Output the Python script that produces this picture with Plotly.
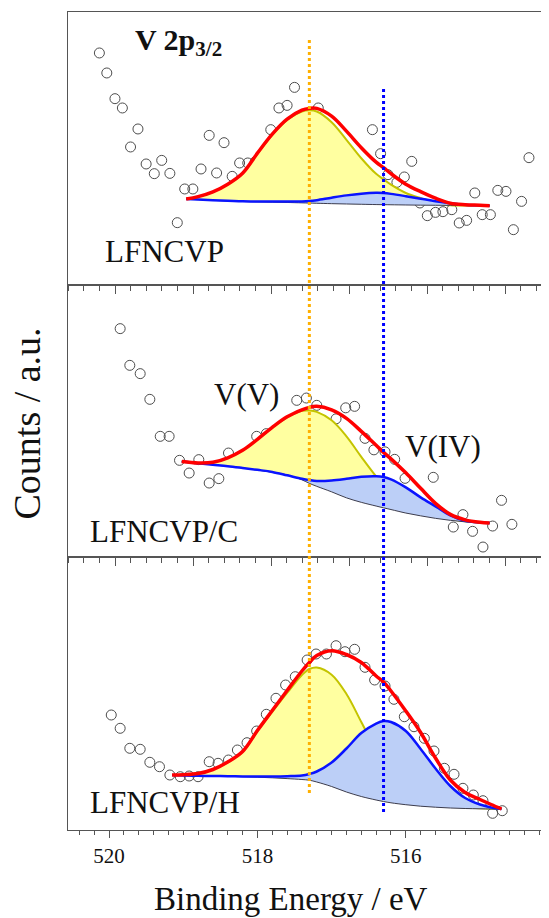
import plotly.graph_objects as go

# ---------------- data ----------------
# Panel 1: LFNCVP
P1_BE = [520.13, 520.03, 519.92, 519.82, 519.71, 519.61, 519.50, 519.39, 519.29, 519.18,
         519.08, 518.98, 518.87, 518.76, 518.65, 518.55, 518.45, 518.34, 518.24, 518.13,
         518.03, 517.82, 517.71, 517.60, 517.50, 517.18, 516.45, 516.34, 516.24, 516.12,
         516.02, 515.92, 515.81, 515.71, 515.60, 515.50, 515.38, 515.28, 515.18, 515.07,
         514.97, 514.86, 514.76, 514.65, 514.55, 514.44, 514.34]
P1_CT = [231.7, 211.7, 186, 176.7, 137.7, 155.7, 120.7, 111, 124.3, 111.3,
         62, 95.7, 95.7, 115.7, 149.3, 111.7, 142, 108.3, 121.7, 121.7,
         123, 155, 176.7, 179.3, 197.3, 176.7, 155, 131, 110, 102.3,
         107.7, 123.3, 81.7, 69, 72.3, 73, 75, 61.7, 64.3, 91.7,
         70, 70, 94.3, 93.3, 55, 83.3, 127]
F1_BE = [518.96, 518.8, 518.6, 518.4, 518.2, 518.0, 517.8, 517.6, 517.4, 517.3, 517.2, 517.0,
         516.8, 516.6, 516.4, 516.3, 516.2, 516.0, 515.8, 515.6, 515.4, 515.2, 515.0, 514.87]
F1_ENV = [85.6, 88, 92.8, 100.5, 111.5, 131.5, 150.5, 165.5, 174.5, 176.3, 176.3, 168.5,
          153.5, 137, 122.5, 117, 111, 100.5, 93, 86.5, 81.5, 80, 79.5, 79]
F1_BG = [85.6, 85, 84.3, 83.7, 83.2, 82.8, 82.5, 82.2, 81.8, 81.6, 81.4, 81,
         80.7, 80.4, 80.1, 80, 79.9, 79.7, 79.5, 79.4, 79.3, 79.2, 79.1, 79]
F1_V5 = [85.6, 87.9, 92.6, 100.2, 111.3, 131.1, 149.9, 164.6, 173.1, 174.3, 173.2, 162.5,
         144.9, 126.4, 110.8, 105.4, 100, 91.7, 86.5, 82.4, 79.3, 79.2, 79.3, 79]
F1_V4 = [85.6, 85.1, 84.5, 84, 83.4, 83.2, 83.1, 83.1, 83.2, 83.6, 84.5, 87,
         89.3, 91, 91.8, 91.6, 90.8, 88.5, 86, 83.5, 81.5, 80, 79.3, 79]

# Panel 2: LFNCVP/C
P2_BE = [519.85, 519.72, 519.58, 519.45, 519.31, 519.19, 519.05, 518.92, 518.79, 518.65,
         518.52, 518.39, 518.01, 517.88, 517.47, 517.34, 517.20, 516.94, 516.81, 516.69,
         516.55, 516.43, 516.28, 516.15, 516.01, 515.63, 515.36, 515.23, 515.10, 514.96,
         514.83, 514.71, 514.57]
P2_CT = [228.7, 192, 183.7, 158, 121, 121, 97, 84.3, 97.7, 74.3,
         78.7, 104.3, 121, 123.7, 157, 159.3, 152, 138.5, 149.5, 151,
         119, 107.5, 105.5, 98, 79, 80, 30.3, 42.7, 26, 10.3,
         31.3, 57, 33]
F2_BE = [519.02, 518.8, 518.6, 518.4, 518.2, 518.0, 517.8, 517.6, 517.4, 517.3, 517.2, 517.0,
         516.8, 516.6, 516.4, 516.3, 516.2, 516.0, 515.8, 515.6, 515.4, 515.2, 515.0, 514.87]
F2_ENV = [95.8, 94.3, 95, 99.5, 107, 118, 130, 140.5, 147.5, 150, 151, 147.5,
          139, 126, 112, 105, 98.5, 84.5, 69, 54, 43, 37.5, 35, 34.3]
F2_BG = [95.8, 94, 92.5, 91, 89.3, 87.3, 85, 82.5, 77.5, 74, 71, 65.5,
         59.5, 55, 51.3, 49.5, 47.8, 44.3, 41.5, 39, 37, 35.5, 34.7, 34.3]
F2_V5 = [95.8, 94.3, 94.9, 99.3, 106.9, 117.8, 129.6, 140, 146.5, 146.8, 145.5, 137,
         121, 100.5, 81, 73, 67, 58, 50, 42.5, 38.5, 36, 34.8, 34.3]
F2_V4 = [95.8, 94, 92.6, 91.2, 89.4, 87.5, 85.4, 82, 78.5, 77.2, 76.3, 76.8,
         78.5, 80.5, 81, 80.3, 78, 70, 60, 51, 42, 36.5, 34.8, 34.3]

# Panel 3: LFNCVP/H
P3_BE = [519.97, 519.85, 519.72, 519.58, 519.45, 519.32, 519.18, 519.04, 518.92, 518.80,
         518.65, 518.53, 518.39, 518.27, 518.14, 518.01, 517.88, 517.75, 517.62, 517.49,
         517.33, 517.21, 517.07, 516.94, 516.82, 516.69, 516.55, 516.42, 516.28, 516.16,
         516.02, 515.89, 515.75, 515.62, 515.48, 515.35, 515.23, 515.09, 514.96, 514.83,
         514.70]
P3_CT = [115, 101.7, 81.7, 80.7, 67.7, 63.3, 55, 53.3, 54, 53.3,
         68.3, 66.7, 70, 80, 87.3, 99, 115.7, 131.7, 145, 153.3,
         170, 176, 176, 184.3, 178.3, 180.7, 162.7, 150, 144, 130.7,
         113.3, 103.3, 91.7, 79, 61.7, 55.7, 41.7, 35, 29.3, 16.7,
         19.3]
F3_BE = [519.15, 519.0, 518.8, 518.6, 518.4, 518.2, 518.0, 517.8, 517.6, 517.4, 517.3, 517.2,
         517.0, 516.8, 516.6, 516.4, 516.3, 516.2, 516.0, 515.8, 515.6, 515.4, 515.2, 515.0,
         514.85, 514.71]
F3_ENV = [55, 55.3, 56.5, 60.5, 68, 78.5, 99.5, 119.5, 139.5, 159, 167.5, 174.5,
          179.3, 175.5, 167.5, 154, 148, 139, 119, 97.5, 72, 50, 37.5, 30.5, 25.5, 21]
F3_BG = [55, 54.6, 54.2, 53.9, 53.6, 53.3, 52.8, 52.2, 51.4, 50.5, 49.8, 48,
         43.5, 38, 33.5, 30, 28.5, 27.2, 25.3, 23.8, 22.8, 22, 21.5, 21.2, 21, 21]
F3_V5 = [55, 55.3, 56.5, 60.4, 67.8, 78.2, 98.8, 118.2, 137.1, 155, 161, 162.5,
         155.3, 136, 108, 80, 70, 60, 46, 35, 28, 24.5, 22.5, 21.8, 21.3, 21]
F3_V4 = [55, 54.6, 54.2, 54, 53.8, 53.6, 53.5, 53.5, 53.8, 54.5, 56, 58.5,
         67.5, 81.5, 97, 106.5, 109, 108, 99, 81, 61.5, 44, 32, 25.5, 22.5, 21]

PANEL_LABELS = ["LFNCVP", "LFNCVP/C", "LFNCVP/H"]
V5_POS = 517.30   # V(V) reference line
V4_POS = 516.30   # V(IV) reference line
X_TICKS = [520, 518, 516]

# ---------------- layout helpers ----------------
# the page body has an 8 px margin, so the figure is drawn 8 px smaller and offset
OFF = 8
W, H = 549 - OFF, 918 - OFF
ML, MR, MT, MB = 68 - OFF, 0, 12 - OFF, 88
PW, PH = W - ML - MR, H - MT - MB
FONT = "Liberation Serif"


def pxx(x):
    return (x - OFF - ML) / PW


def pxy(y):
    return (H - MB - (y - OFF)) / PH


fig = go.Figure()

panels = [
    (P1_BE, P1_CT, F1_BE, F1_ENV, F1_BG, F1_V5, F1_V4),
    (P2_BE, P2_CT, F2_BE, F2_ENV, F2_BG, F2_V5, F2_V4),
    (P3_BE, P3_CT, F3_BE, F3_ENV, F3_BG, F3_V5, F3_V4),
]

for i, (pbe, pct, fbe, env, bg, v5, v4) in enumerate(panels):
    xa = "x" if i == 0 else f"x{i+1}"
    ya = "y" if i == 0 else f"y{i+1}"
    common = dict(xaxis=xa, yaxis=ya, showlegend=False, hoverinfo="skip")
    fig.add_trace(go.Scatter(x=pbe, y=pct, mode="markers",
                             marker=dict(symbol="circle-open", size=10, color="#4d4d4d",
                                         line=dict(width=1)), **common))
    fig.add_trace(go.Scatter(x=fbe, y=bg, mode="lines", line=dict(width=0, color="rgba(0,0,0,0)",
                             shape="spline"), **common))
    fig.add_trace(go.Scatter(x=fbe, y=v5, mode="lines", fill="tonexty", fillcolor="#ffffa0",
                             line=dict(color="#c4c400", width=2, shape="spline"), **common))
    fig.add_trace(go.Scatter(x=fbe, y=bg, mode="lines",
                             line=dict(color="#3c3c50", width=1, shape="spline"), **common))
    fig.add_trace(go.Scatter(x=fbe, y=v4, mode="lines", fill="tonexty", fillcolor="#bccff7",
                             line=dict(color="#0a14ff", width=2.5, shape="spline"), **common))
    fig.add_trace(go.Scatter(x=fbe, y=env, mode="lines",
                             line=dict(color="#ff0000", width=3.5, shape="spline"), **common))

X_RANGE = [520.553, 514.07]
axis_line = dict(showline=True, linecolor="#555555", linewidth=1, showgrid=False, zeroline=False)
up_tick0 = 520 - 6 / 74.2
up_dtick = 78 / 74.2
for i in range(3):
    key = "xaxis" if i == 0 else f"xaxis{i+1}"
    ykey = "yaxis" if i == 0 else f"yaxis{i+1}"
    anchor = "y" if i == 0 else f"y{i+1}"
    xanchor = "x" if i == 0 else f"x{i+1}"
    d0 = 1 - (i + 1) / 3
    d1 = 1 - i / 3
    if i < 2:
        xa = dict(range=X_RANGE, anchor=anchor, mirror=True, ticks="outside", ticklen=8,
                  tickcolor="#555555", showticklabels=False, tickmode="linear",
                  tick0=up_tick0, dtick=up_dtick,
                  minor=dict(ticks="outside", ticklen=5, tickcolor="#555555",
                             tick0=up_tick0, dtick=up_dtick / 5),
                  **axis_line)
    else:
        xa = dict(range=X_RANGE, anchor=anchor, mirror=True, ticks="outside", ticklen=7,
                  tickcolor="#555555", tickmode="array", tickvals=X_TICKS,
                  ticktext=[str(t) for t in X_TICKS],
                  tickfont=dict(family=FONT, size=21, color="#111111"),
                  minor=dict(ticks="outside", ticklen=4, tickcolor="#555555",
                             tick0=520, dtick=0.2),
                  **axis_line)
    fig.update_layout(**{key: xa})
    fig.update_layout(**{ykey: dict(range=[0, PH / 3], domain=[d0, d1], anchor=xanchor,
                                    mirror=False, ticks="", showticklabels=False, **axis_line)})

shapes = [
    dict(type="line", xref="x3", yref="paper", x0=V5_POS, x1=V5_POS, y0=pxy(793), y1=pxy(40),
         line=dict(color="#ffb000", width=3, dash="dot"), layer="above"),
    dict(type="line", xref="x3", yref="paper", x0=V4_POS, x1=V4_POS, y0=pxy(812), y1=pxy(87),
         line=dict(color="#0000ff", width=3, dash="dot"), layer="above"),
]

tf = dict(family=FONT, size=31, color="#111111")
ann = [
    dict(text="<b>V 2p<sub>3/2</sub></b>", x=pxx(133), y=pxy(42), xanchor="left",
         yanchor="middle", font=dict(family=FONT, size=30, color="#111111")),
    dict(text=PANEL_LABELS[0], x=pxx(103), y=pxy(251.5), xanchor="left", yanchor="middle", font=tf),
    dict(text=PANEL_LABELS[1], x=pxx(88), y=pxy(531), xanchor="left", yanchor="middle", font=tf),
    dict(text=PANEL_LABELS[2], x=pxx(88), y=pxy(802), xanchor="left", yanchor="middle", font=tf),
    dict(text="V(V)", x=pxx(211.7), y=pxy(394), xanchor="left", yanchor="middle", font=tf),
    dict(text="V(IV)", x=pxx(403), y=pxy(446), xanchor="left", yanchor="middle", font=tf),
    dict(text="Counts / a.u.", x=pxx(27), y=pxy(423.5), xanchor="center", yanchor="middle",
         textangle=-90, font=dict(family=FONT, size=38, color="#111111")),
    dict(text="Binding Energy / eV", x=pxx(291), y=pxy(899), xanchor="center", yanchor="middle",
         font=dict(family=FONT, size=33, color="#111111")),
]
for a in ann:
    a.update(xref="paper", yref="paper", showarrow=False)

fig.update_layout(width=W, height=H, margin=dict(l=ML, r=MR, t=MT, b=MB),
                  paper_bgcolor="white", plot_bgcolor="white",
                  font=dict(family=FONT, color="#111111"),
                  shapes=shapes, annotations=ann)

fig.write_html("out.html")
